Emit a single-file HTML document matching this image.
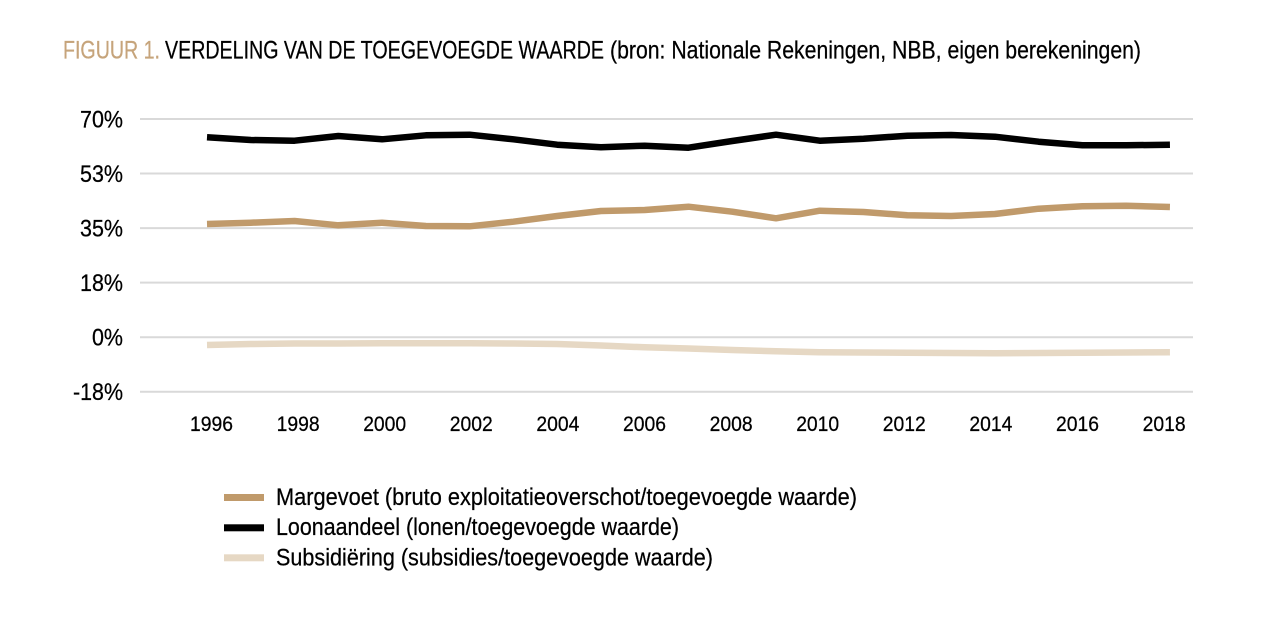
<!DOCTYPE html>
<html>
<head>
<meta charset="utf-8">
<style>
  html,body{margin:0;padding:0;background:#fff;}
  svg{display:block;}
  text{font-family:"Liberation Sans Narrow","Liberation Sans",sans-serif;fill:#000;stroke:#000;stroke-width:0.25;}
</style>
</head>
<body>
<svg width="1288" height="617" viewBox="0 0 1288 617" xmlns="http://www.w3.org/2000/svg">
  <rect width="1288" height="617" fill="#fff"/>
  <!-- Title -->
  <text x="63" y="58.5" font-size="25" textLength="97" lengthAdjust="spacingAndGlyphs" style="fill:#c6a47b;stroke:#c6a47b">FIGUUR 1.</text>
  <text x="165" y="58.5" font-size="25" textLength="439" lengthAdjust="spacingAndGlyphs">VERDELING VAN DE TOEGEVOEGDE WAARDE</text>
  <text x="610" y="58.5" font-size="25" textLength="531" lengthAdjust="spacingAndGlyphs">(bron: Nationale Rekeningen, NBB, eigen berekeningen)</text>

  <!-- Gridlines -->
  <g stroke="#d9d9d9" stroke-width="2">
    <line x1="140" y1="119" x2="1193" y2="119"/>
    <line x1="140" y1="173.55" x2="1193" y2="173.55"/>
    <line x1="140" y1="228.1" x2="1193" y2="228.1"/>
    <line x1="140" y1="282.65" x2="1193" y2="282.65"/>
    <line x1="140" y1="337.2" x2="1193" y2="337.2"/>
    <line x1="140" y1="391.75" x2="1193" y2="391.75"/>
  </g>

  <!-- Y labels -->
  <g font-size="24" text-anchor="end">
    <text x="123" y="127.5" textLength="43" lengthAdjust="spacingAndGlyphs">70%</text>
    <text x="123" y="182" textLength="43" lengthAdjust="spacingAndGlyphs">53%</text>
    <text x="123" y="236.6" textLength="43" lengthAdjust="spacingAndGlyphs">35%</text>
    <text x="123" y="291.1" textLength="43" lengthAdjust="spacingAndGlyphs">18%</text>
    <text x="123" y="345.7" textLength="31" lengthAdjust="spacingAndGlyphs">0%</text>
    <text x="123" y="400.2" textLength="50" lengthAdjust="spacingAndGlyphs">-18%</text>
  </g>

  <!-- X labels -->
  <g font-size="21.5" text-anchor="middle">
    <text x="211.5" y="431" textLength="43" lengthAdjust="spacingAndGlyphs">1996</text>
    <text x="298.1" y="431" textLength="43" lengthAdjust="spacingAndGlyphs">1998</text>
    <text x="384.7" y="431" textLength="43" lengthAdjust="spacingAndGlyphs">2000</text>
    <text x="471.3" y="431" textLength="43" lengthAdjust="spacingAndGlyphs">2002</text>
    <text x="557.9" y="431" textLength="43" lengthAdjust="spacingAndGlyphs">2004</text>
    <text x="644.5" y="431" textLength="43" lengthAdjust="spacingAndGlyphs">2006</text>
    <text x="731.1" y="431" textLength="43" lengthAdjust="spacingAndGlyphs">2008</text>
    <text x="817.7" y="431" textLength="43" lengthAdjust="spacingAndGlyphs">2010</text>
    <text x="904.3" y="431" textLength="43" lengthAdjust="spacingAndGlyphs">2012</text>
    <text x="990.9" y="431" textLength="43" lengthAdjust="spacingAndGlyphs">2014</text>
    <text x="1077.5" y="431" textLength="43" lengthAdjust="spacingAndGlyphs">2016</text>
    <text x="1164.1" y="431" textLength="43" lengthAdjust="spacingAndGlyphs">2018</text>
  </g>

  <!-- Series -->
  <g fill="none" stroke-width="6.5" stroke-linejoin="round" stroke-linecap="butt">
    <polyline stroke="#c09a6b" points="207,224 250.77,222.7 294.54,221 338.31,225.3 382.08,222.7 425.85,226 469.62,226.3 513.39,221.7 557.16,216 600.93,211 644.7,210 688.47,206.7 732.24,211.7 776.01,218.3 819.78,210.7 863.55,212 907.32,215.3 951.09,216 994.86,214 1038.63,208.7 1082.4,206.3 1126.17,205.7 1169.94,207"/>
    <polyline stroke="#000000" points="207,137.3 250.77,140 294.54,140.7 338.31,136 382.08,139.3 425.85,135.3 469.62,134.7 513.39,139.3 557.16,144.7 600.93,147.3 644.7,145.7 688.47,147.7 732.24,141 776.01,134.7 819.78,140.7 863.55,138.7 907.32,135.7 951.09,135 994.86,136.7 1038.63,141.7 1082.4,145.3 1126.17,145.3 1169.94,144.7"/>
    <polyline stroke="#e6d8c4" points="207,345 250.77,344 294.54,343.5 338.31,343.5 382.08,343.3 425.85,343.3 469.62,343.3 513.39,343.5 557.16,344 600.93,345.5 644.7,347.3 688.47,348.5 732.24,350 776.01,351.3 819.78,352.3 863.55,352.5 907.32,352.7 951.09,353 994.86,353.3 1038.63,353 1082.4,352.7 1126.17,352.5 1169.94,352.3"/>
  </g>

  <!-- Legend -->
  <rect x="224" y="494" width="40" height="7" fill="#c09a6b"/>
  <rect x="224" y="524.3" width="40" height="7" fill="#000"/>
  <rect x="224" y="554.3" width="40" height="7" fill="#e6d8c4"/>
  <g font-size="24.5">
    <text x="276" y="505" textLength="581" lengthAdjust="spacingAndGlyphs">Margevoet (bruto exploitatieoverschot/toegevoegde waarde)</text>
    <text x="276" y="535.2" textLength="403" lengthAdjust="spacingAndGlyphs">Loonaandeel (lonen/toegevoegde waarde)</text>
    <text x="276" y="565.4" textLength="437" lengthAdjust="spacingAndGlyphs">Subsidiëring (subsidies/toegevoegde waarde)</text>
  </g>
</svg>
</body>
</html>
